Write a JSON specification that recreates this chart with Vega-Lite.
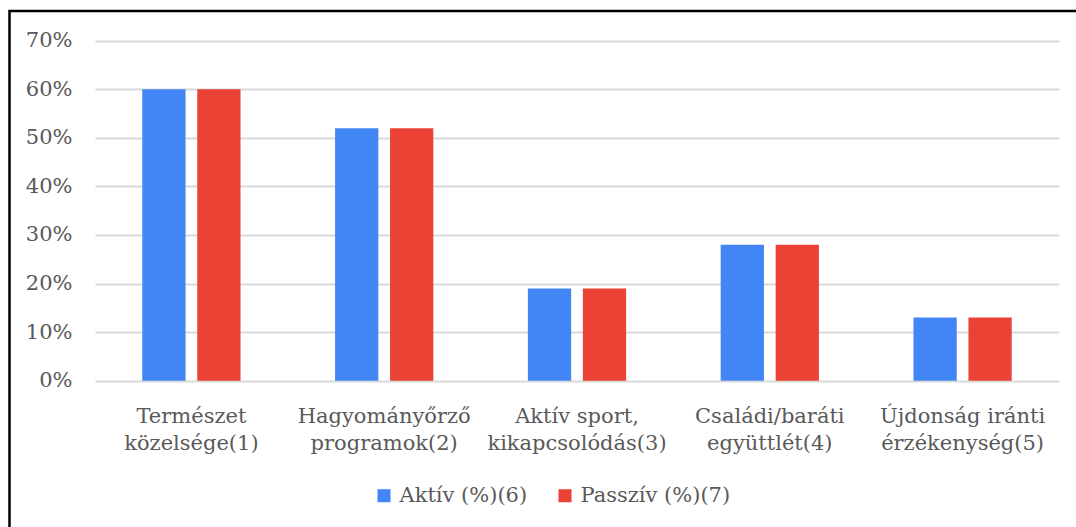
{
  "$schema": "https://vega.github.io/schema/vega-lite/v6.json",
  "width": 1080.5,
  "height": 530,
  "autosize": "none",
  "padding": {"left": 9.5, "top": 11, "right": -14, "bottom": -14},
  "background": "white",
  "config": {
    "view": {"stroke": "#000000", "strokeWidth": 2.5},
    "font": "DejaVu Serif, Liberation Serif, serif"
  },
  "data": {
    "values": [
      {"category": "Természet\nközelsége(1)", "series": "Aktív (%)(6)", "value": 0.60},
      {"category": "Természet\nközelsége(1)", "series": "Passzív (%)(7)", "value": 0.60},
      {"category": "Hagyományőrző\nprogramok(2)", "series": "Aktív (%)(6)", "value": 0.52},
      {"category": "Hagyományőrző\nprogramok(2)", "series": "Passzív (%)(7)", "value": 0.52},
      {"category": "Aktív sport,\nkikapcsolódás(3)", "series": "Aktív (%)(6)", "value": 0.19},
      {"category": "Aktív sport,\nkikapcsolódás(3)", "series": "Passzív (%)(7)", "value": 0.19},
      {"category": "Családi/baráti\negyüttlét(4)", "series": "Aktív (%)(6)", "value": 0.28},
      {"category": "Családi/baráti\negyüttlét(4)", "series": "Passzív (%)(7)", "value": 0.28},
      {"category": "Újdonság iránti\nérzékenység(5)", "series": "Aktív (%)(6)", "value": 0.13},
      {"category": "Újdonság iránti\nérzékenység(5)", "series": "Passzív (%)(7)", "value": 0.13}
    ]
  },
  "mark": {"type": "bar"},
  "encoding": {
    "x": {
      "field": "category",
      "type": "nominal",
      "sort": null,
      "scale": {"type": "band", "range": [85.5, 1049.5], "paddingInner": 0, "paddingOuter": 0},
      "axis": {
        "title": null,
        "orient": "bottom",
        "offset": -136,
        "domain": false,
        "ticks": false,
        "tickSize": 0,
        "grid": false,
        "labelPadding": 0,
        "labelAngle": 0,
        "labelFont": "DejaVu Serif, Liberation Serif, serif",
        "labelFontSize": 21,
        "labelColor": "#595959",
        "labelLineHeight": 27,
        "labelOverlap": false,
        "labelExpr": "split(datum.label, '\\n')"
      }
    },
    "xOffset": {
      "field": "series",
      "type": "nominal",
      "sort": ["Aktív (%)(6)", "Passzív (%)(7)"],
      "scale": {"paddingInner": 0.213, "paddingOuter": 0.86}
    },
    "y": {
      "field": "value",
      "type": "quantitative",
      "scale": {"domain": [0, 0.7], "range": [369.7, 29.7], "nice": false},
      "axis": {
        "title": null,
        "values": [0, 0.1, 0.2, 0.3, 0.4, 0.5, 0.6, 0.7],
        "format": ".0%",
        "offset": -62.5,
        "domain": false,
        "ticks": false,
        "tickSize": 0,
        "labelPadding": 0,
        "labelFont": "DejaVu Serif, Liberation Serif, serif",
        "labelFontSize": 21,
        "labelColor": "#595959",
        "grid": true,
        "gridColor": "#d9d9d9",
        "gridWidth": 2
      }
    },
    "color": {
      "field": "series",
      "type": "nominal",
      "scale": {"domain": ["Aktív (%)(6)", "Passzív (%)(7)"], "range": ["#4285F4", "#EA4335"]},
      "legend": {
        "title": null,
        "orient": "none",
        "legendX": 364,
        "legendY": 474,
        "direction": "horizontal",
        "symbolType": "square",
        "symbolSize": 170,
        "symbolStrokeWidth": 0,
        "labelFont": "DejaVu Serif, Liberation Serif, serif",
        "labelFontSize": 21,
        "labelColor": "#595959",
        "labelOffset": 5,
        "columnPadding": 27
      }
    }
  }
}
